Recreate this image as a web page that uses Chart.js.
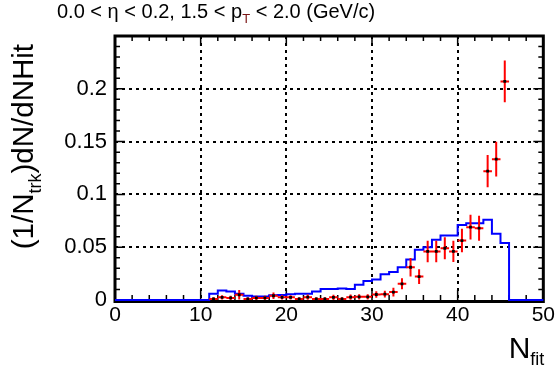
<!DOCTYPE html>
<html>
<head>
<meta charset="utf-8">
<script src="https://cdn.jsdelivr.net/npm/chart.js@4"></script>
<style>
  html, body { margin: 0; padding: 0; background: #fff; }
</style>
</head>
<body>
<canvas id="chart" width="558" height="367"></canvas>
<script>
// histogram bin low edges (plus the last upper edge)
var binEdges = [0, 1, 2, 3, 4, 5, 6, 7, 8, 9, 10, 11, 12, 13, 14, 15, 16, 17, 18, 19,
  20, 21, 22, 23, 24, 25, 26, 27, 28, 29, 30, 31, 32, 33, 34, 35, 36, 37, 38, 39,
  40, 41, 42, 43, 44, 45, 46, 47, 48, 49, 50]

// blue histogram (simulation), one value per bin
var mcValues = [0, 0, 0, 0, 0, 0, 0, 0, 0, 0, 0,
  0.006, 0.009, 0.008, 0.006, 0.004, 0.0033, 0.0033, 0.0045, 0.0048,
  0.0055, 0.006, 0.006, 0.008, 0.0105, 0.0105, 0.011, 0.0105, 0.0144, 0.018,
  0.0195, 0.0245, 0.0264, 0.031, 0.0383, 0.0475, 0.050, 0.057, 0.061, 0.061,
  0.071, 0.0727, 0.0727, 0.076, 0.0627, 0.054, 0, 0, 0, 0]

// red points (data) at bin centres
var dataCenters = [11.5, 12.5, 13.5, 14.5, 15.5, 16.5, 17.5, 18.5, 19.5, 20.5,
  21.5, 22.5, 23.5, 24.5, 25.5, 26.5, 27.5, 28.5, 29.5, 30.5,
  31.5, 32.5, 33.5, 34.5, 35.5, 36.5, 37.5, 38.5, 39.5, 40.5,
  41.5, 42.5, 43.5, 44.5, 45.5]
var dataValues = [0.001, 0.0025, 0.002, 0.005, 0.001, 0.002, 0.002, 0.004, 0.0025, 0.0025,
  0.001, 0.0027, 0.001, 0.001, 0.0025, 0.001, 0.0027, 0.003, 0.003, 0.0052,
  0.0055, 0.0075, 0.0153, 0.031, 0.0222, 0.046, 0.046, 0.049, 0.046, 0.0563,
  0.069, 0.068, 0.122, 0.1334, 0.207]
var dataErrors = [0.0015, 0.002, 0.002, 0.0045, 0.0015, 0.002, 0.002, 0.003, 0.002, 0.002,
  0.0015, 0.0025, 0.0015, 0.0015, 0.0025, 0.0015, 0.0025, 0.0025, 0.0025, 0.003,
  0.0032, 0.0042, 0.0052, 0.0087, 0.007, 0.0102, 0.0102, 0.0105, 0.01, 0.0112,
  0.0118, 0.0118, 0.0152, 0.0165, 0.0198]
var binHalfWidth = 0.5

var xMajorStep = 10, xMinorStep = 2
var yMajorStep = 0.05, yMinorStep = 0.01

var FONT = '"Liberation Sans", Arial, Helvetica, sans-serif'

// histogram as stepped line: point at each low edge, last one at 50
var mcPoints = binEdges.map(function (e, i) {
  var v = i < mcValues.length ? mcValues[i] : mcValues[mcValues.length - 1]
  return { x: e, y: v }
})
var dataPoints = dataCenters.map(function (c, i) {
  return { x: c, y: dataValues[i] }
})

// draw text made of pieces (for subscripts)
function drawPieces (ctx, pieces, x, y, measureOnly) {
  var cx = x
  pieces.forEach(function (p) {
    ctx.font = p.size + 'px ' + FONT
    if (!measureOnly) {
      ctx.fillStyle = p.color || '#000'
      ctx.fillText(p.text, cx, y + (p.dy || 0))
    }
    cx += ctx.measureText(p.text).width
  })
  return cx - x
}

var frameAndBars = {
  id: 'frameAndBars',
  beforeDatasetsDraw: function (chart) {
    var ctx = chart.ctx
    var a = chart.chartArea
    var xs = chart.scales.x, ys = chart.scales.y
    ctx.save()
    ctx.strokeStyle = '#000'
    ctx.lineWidth = 1.5
    ctx.beginPath()
    var v, px, len
    for (v = xs.min; v <= xs.max + 1e-9; v += xMinorStep) {
      px = xs.getPixelForValue(v)
      len = Math.abs(v / xMajorStep - Math.round(v / xMajorStep)) < 1e-6 ? 10 : 5
      ctx.moveTo(px, a.bottom); ctx.lineTo(px, a.bottom - len)
      ctx.moveTo(px, a.top); ctx.lineTo(px, a.top + len)
    }
    for (v = ys.min; v <= ys.max + 1e-9; v += yMinorStep) {
      px = ys.getPixelForValue(v)
      len = Math.abs(v / yMajorStep - Math.round(v / yMajorStep)) < 1e-6 ? 10 : 5
      ctx.moveTo(a.left, px); ctx.lineTo(a.left + len, px)
      ctx.moveTo(a.right, px); ctx.lineTo(a.right - len, px)
    }
    ctx.stroke()
    // frame, bottom edge a bit below so the zero line stays visible
    ctx.lineWidth = 3
    ctx.strokeRect(a.left, a.top, a.right - a.left, a.bottom - a.top + 1.5)
    ctx.restore()
  },
  beforeDatasetDraw: function (chart, args) {
    if (args.index !== 0) return
    var ctx = chart.ctx
    var xs = chart.scales.x, ys = chart.scales.y
    ctx.save()
    ctx.strokeStyle = '#ff0000'
    ctx.lineWidth = 2
    ctx.beginPath()
    dataCenters.forEach(function (c, i) {
      var yv = ys.getPixelForValue(dataValues[i])
      ctx.moveTo(xs.getPixelForValue(c - binHalfWidth), yv)
      ctx.lineTo(xs.getPixelForValue(c + binHalfWidth), yv)
      var xc = xs.getPixelForValue(c)
      ctx.moveTo(xc, ys.getPixelForValue(Math.max(0, dataValues[i] - dataErrors[i])))
      ctx.lineTo(xc, ys.getPixelForValue(dataValues[i] + dataErrors[i]))
    })
    ctx.stroke()
    ctx.restore()
  },
  afterDraw: function (chart) {
    var ctx = chart.ctx
    var a = chart.chartArea
    ctx.save()
    ctx.textAlign = 'left'
    ctx.textBaseline = 'alphabetic'
    // top title
    drawPieces(ctx, [
      { text: '0.0 < \u03b7 < 0.2, 1.5 < p', size: 20 },
      { text: 'T', size: 13, dy: 5, color: '#7a1414' },
      { text: ' < 2.0 (GeV/c)', size: 20 }
    ], 57, 18)
    // x title
    var xt = [{ text: 'N', size: 30 }, { text: 'fit', size: 18, dy: 7 }]
    var w = drawPieces(ctx, xt, 0, 0, true)
    drawPieces(ctx, xt, a.right + 1 - w, 358)
    // y title, rotated
    var yt = [{ text: '(1/N', size: 29.5 }, { text: 'trk', size: 18, dy: 8 }, { text: ')dN/dNHit', size: 29.5 }]
    w = drawPieces(ctx, yt, 0, 0, true)
    ctx.translate(33, a.top + 8 + w)
    ctx.rotate(-Math.PI / 2)
    drawPieces(ctx, yt, 0, 0)
    ctx.restore()
  }
}

function gridColor (ctx) {
  var v = ctx.tick && ctx.tick.value
  var s = ctx.scale
  if (v === undefined || v <= s.min + 1e-9 || v >= s.max - 1e-9) return 'rgba(0,0,0,0)'
  return '#000'
}

new Chart(document.getElementById('chart'), {
  type: 'line',
  data: {
    datasets: [
      {
        type: 'scatter',
        label: 'data',
        data: dataPoints,
        pointStyle: 'rect',
        pointRadius: 2,
        pointBackgroundColor: '#000',
        pointBorderWidth: 0
      },
      {
        label: 'mc',
        data: mcPoints,
        stepped: true,
        borderColor: '#0000ff',
        borderWidth: 2,
        pointRadius: 0,
        fill: false,
        tension: 0,
        clip: false
      }
    ]
  },
  options: {
    responsive: false,
    animation: false,
    devicePixelRatio: 1,
    layout: { padding: { top: 36, right: 13, left: 0, bottom: 0 } },
    plugins: { legend: { display: false }, tooltip: { enabled: false } },
    scales: {
      x: {
        type: 'linear',
        min: 0,
        max: 50,
        ticks: { stepSize: xMajorStep, color: '#000', font: { family: FONT, size: 21 }, padding: 3, maxRotation: 0 },
        grid: { color: gridColor, lineWidth: 2, drawTicks: false },
        border: { display: false, dash: [3, 4] },
        afterFit: function (scale) { scale.height = 67 }
      },
      y: {
        type: 'linear',
        min: 0,
        max: 0.25,
        ticks: {
          stepSize: yMajorStep,
          color: '#000',
          font: { family: FONT, size: 22 },
          padding: 8,
          callback: function (v) { return v > 0.21 ? '' : String(Math.round(v * 100) / 100) }
        },
        grid: { color: gridColor, lineWidth: 2, drawTicks: false },
        border: { display: false, dash: [3, 4] },
        afterFit: function (scale) { scale.width = 115 }
      }
    }
  },
  plugins: [frameAndBars]
})
</script>
</body>
</html>
